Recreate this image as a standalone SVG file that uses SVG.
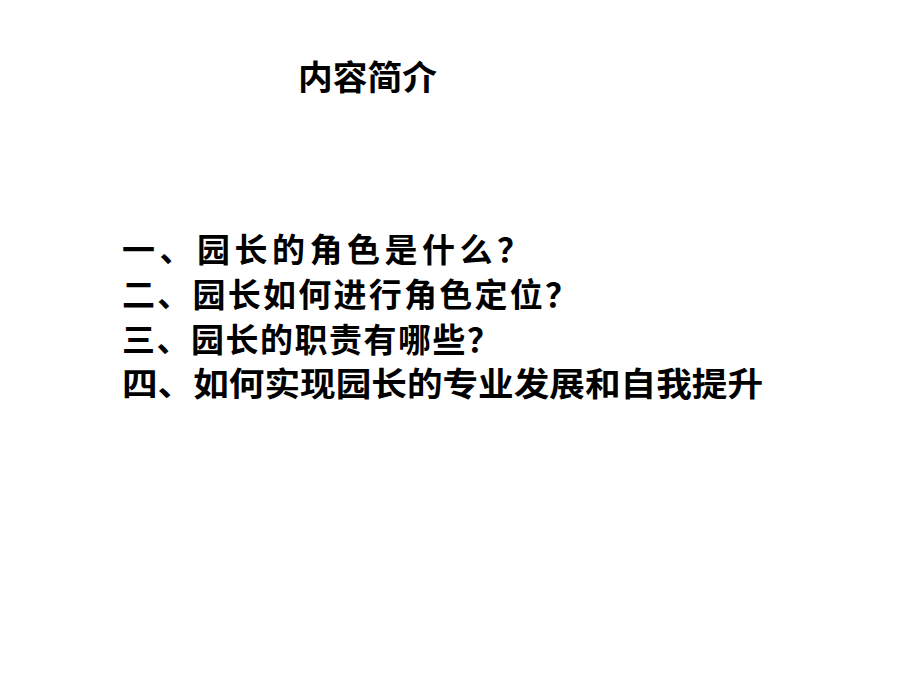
<svg xmlns="http://www.w3.org/2000/svg" width="920" height="690" viewBox="0 0 920 690">
<style>
text{font-family:"Noto Sans CJK SC",sans-serif;fill:#000;font-weight:bold}
.t{font-size:34px}
.l{font-size:33px}
</style>
<rect width="920" height="690" fill="#fff"/>
<text class="t" x="298" y="90" textLength="139" lengthAdjust="spacingAndGlyphs">内容简介</text>
<g id="items">
<text class="l" x="122" y="262" textLength="408">一、园长的角色是什么？</text>
<text class="l" x="122" y="307" textLength="456">二、园长如何进行角色定位？</text>
<text class="l" x="122" y="352" textLength="378">三、园长的职责有哪些？</text>
<text class="l" x="122" y="396" textLength="641" lengthAdjust="spacingAndGlyphs">四、如何实现园长的专业发展和自我提升</text>
</g>
</svg>
